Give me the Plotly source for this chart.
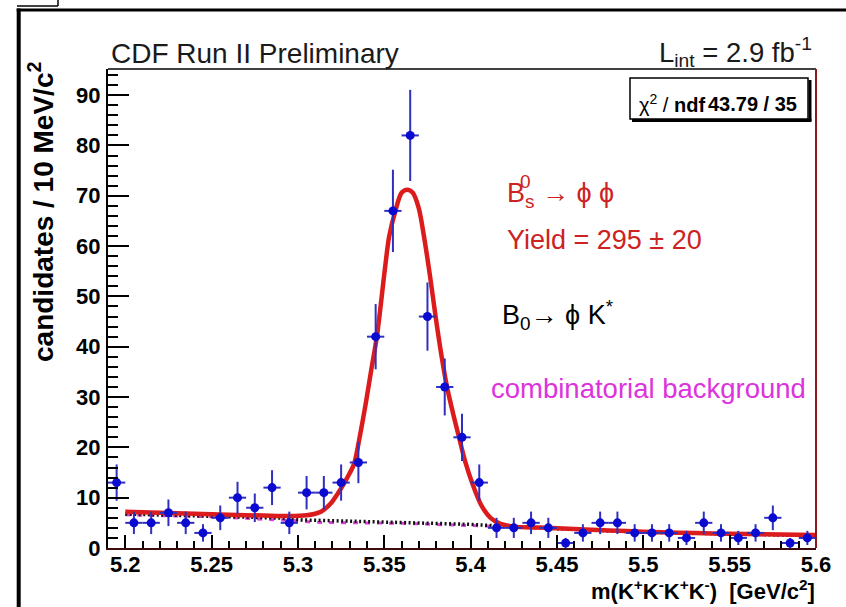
import numpy as np
import plotly.graph_objects as go

# ---------------- data ----------------
bin_centers = [5.195, 5.205, 5.215, 5.225, 5.235, 5.245, 5.255, 5.265, 5.275, 5.285,
               5.295, 5.305, 5.315, 5.325, 5.335, 5.345, 5.355, 5.365, 5.375, 5.385,
               5.395, 5.405, 5.415, 5.425, 5.435, 5.445, 5.455, 5.465, 5.475, 5.485,
               5.495, 5.505, 5.515, 5.525, 5.535, 5.545, 5.555, 5.565, 5.575, 5.585,
               5.595]
counts = [13, 5, 5, 7, 5, 3, 6, 10, 8, 12,
          5, 11, 11, 13, 17, 42, 67, 82, 46, 32,
          22, 13, 4, 4, 5, 4, 1, 3, 5, 5,
          3, 3, 3, 2, 5, 3, 2, 3, 6, 1,
          2]
bin_half_width = 0.005

# total fit (red)
fit_x = [5.200, 5.220, 5.240, 5.260, 5.280, 5.295, 5.305, 5.310, 5.3133, 5.3191,
         5.3230, 5.3268, 5.3300, 5.3326, 5.3360, 5.3393, 5.3425, 5.3457, 5.3503, 5.3528,
         5.3566, 5.3600, 5.3633, 5.3665, 5.3700, 5.3730, 5.3765, 5.3797, 5.3830, 5.3865,
         5.3900, 5.3932, 5.3970, 5.4009, 5.4060, 5.4115, 5.4173, 5.4250, 5.4400, 5.4600,
         5.4800, 5.5000, 5.5200, 5.5400, 5.5600, 5.5800, 5.6000]
fit_y = [7.2, 7.0, 6.8, 6.6, 6.45, 6.35, 6.5, 6.8, 7.2, 8.9,
         10.8, 12.9, 14.9, 16.8, 22.5, 28.8, 35.5, 42.0, 55.3, 61.9,
         67.2, 70.6, 71.2, 70.6, 67.5, 61.9, 54.0, 46.0, 38.5, 31.7,
         26.5, 22.1, 17.0, 12.9, 8.6, 6.0, 4.8, 4.25, 4.05, 3.8,
         3.5, 3.25, 3.05, 2.9, 2.8, 2.7, 2.6]

# background incl. B0 -> phi K* (black dotted)
bkg_x = [5.20, 5.25, 5.29, 5.30, 5.33, 5.36, 5.40, 5.415, 5.43, 5.45, 5.50, 5.55, 5.60]
bkg_y = [6.75, 6.35, 5.95, 5.6, 5.35, 5.1, 4.7, 4.4, 4.1, 3.85, 3.15, 2.75, 2.45]

# combinatorial background (magenta)
comb_x = [5.20, 5.25, 5.30, 5.31, 5.36, 5.40, 5.415, 5.45, 5.50, 5.55, 5.60]
comb_y = [6.6, 6.2, 5.4, 5.1, 4.9, 4.5, 4.3, 3.85, 3.15, 2.75, 2.45]

x_tick_vals = [5.2, 5.25, 5.3, 5.35, 5.4, 5.45, 5.5, 5.55, 5.6]
x_tick_text = ["5.2", "5.25", "5.3", "5.35", "5.4", "5.45", "5.5", "5.55", "5.6"]
y_tick_vals = [0, 10, 20, 30, 40, 50, 60, 70, 80, 90]

# ---------------- geometry ----------------
W, H = 846, 607
L, R, T, B = 108, 30, 69, 59
PW, PH = W - L - R, H - T - B


def px(x):
    return (x - L) / PW


def py(y):
    return (H - B - y) / PH


FONT = "Liberation Sans, Arial, Helvetica, sans-serif"

fig = go.Figure()

fig.add_trace(go.Scatter(x=comb_x, y=comb_y, mode="lines",
                         line=dict(color="#e040e0", width=3, dash="5px,7px"),
                         hoverinfo="skip", showlegend=False))
fig.add_trace(go.Scatter(x=bkg_x, y=bkg_y, mode="lines",
                         line=dict(color="#111111", width=3.5, dash="2px,2.5px"),
                         hoverinfo="skip", showlegend=False))
fig.add_trace(go.Scatter(x=fit_x, y=fit_y, mode="lines",
                         line=dict(color="#dc1c1c", width=4.5, shape="spline", smoothing=0.8),
                         hoverinfo="skip", showlegend=False))
fig.add_trace(go.Scatter(
    x=bin_centers, y=counts, mode="markers",
    marker=dict(color="#0a0ad0", size=9, line=dict(width=0)),
    error_y=dict(type="data", array=list(np.sqrt(counts)), color="#2f2fc0", thickness=2, width=0),
    error_x=dict(type="constant", value=bin_half_width, color="#2f2fc0", thickness=2, width=0),
    showlegend=False))

fig.update_xaxes(range=[5.19, 5.6], tickvals=x_tick_vals, ticktext=x_tick_text,
                 ticks="inside", ticklen=13, tickwidth=1.5, tickcolor="black",
                 minor=dict(dtick=0.01, tick0=5.2, ticks="inside", ticklen=7, tickwidth=1.5, tickcolor="black"),
                 showgrid=False, zeroline=False, showline=True, linecolor="#3a0c0c", linewidth=2,
                 tickfont=dict(family=FONT, size=22, color="black", weight="bold"),
                 ticklabelstandoff=-4)
fig.update_yaxes(range=[0, 95.2], tickvals=y_tick_vals,
                 ticks="inside", ticklen=21, tickwidth=1.5, tickcolor="black",
                 minor=dict(dtick=2, tick0=0, ticks="inside", ticklen=10, tickwidth=1.5, tickcolor="black"),
                 showgrid=False, zeroline=False, showline=True, linecolor="black", linewidth=2,
                 tickfont=dict(family=FONT, size=22, color="black", weight="bold"),
                 ticklabelstandoff=1)

shapes = []
# frame top and right
shapes.append(dict(type="line", xref="paper", yref="paper", x0=0, x1=1, y0=1, y1=1,
                   line=dict(color="black", width=1.5)))
shapes.append(dict(type="line", xref="paper", yref="paper", x0=1, x1=1, y0=0, y1=1,
                   line=dict(color="#8a1a1a", width=2)))
# outer canvas border
shapes.append(dict(type="line", xref="paper", yref="paper", x0=px(18.7), x1=px(18.7), y0=py(8.5), y1=py(H + 5),
                   line=dict(color="black", width=4)))
shapes.append(dict(type="line", xref="paper", yref="paper", x0=px(16.7), x1=px(W + 5), y0=py(10), y1=py(10),
                   line=dict(color="black", width=3)))
shapes.append(dict(type="line", xref="paper", yref="paper", x0=px(17), x1=px(58), y0=py(6), y1=py(6),
                   line=dict(color="black", width=1.5)))
shapes.append(dict(type="line", xref="paper", yref="paper", x0=px(58), x1=px(58), y0=py(-2), y1=py(6),
                   line=dict(color="black", width=1.5)))
# chi2 box with shadow
shapes.append(dict(type="rect", xref="paper", yref="paper", x0=px(630), x1=px(808), y0=py(119), y1=py(78),
                   line=dict(color="black", width=1.5), fillcolor="white"))
shapes.append(dict(type="line", xref="paper", yref="paper", x0=px(810), x1=px(810), y0=py(121), y1=py(80),
                   line=dict(color="black", width=3)))
shapes.append(dict(type="line", xref="paper", yref="paper", x0=px(632), x1=px(811.5), y0=py(120.5), y1=py(120.5),
                   line=dict(color="black", width=3)))

ann = []


def text(s, x, y, size, color="black", xanchor="left", angle=0, bold=False):
    ann.append(dict(text=s, xref="paper", yref="paper", x=px(x), y=py(y), showarrow=False,
                    xanchor=xanchor, yanchor="middle", textangle=angle,
                    font=dict(family=FONT, size=size, color=color, weight="bold" if bold else "normal")))


text("CDF Run II Preliminary", 109, 53, 28, color="#1a1a1a")
text("L<sub>int</sub> = 2.9 fb<sup>-1</sup>", 814, 52, 27.5, color="#1a1a1a", xanchor="right")
text("χ<sup>2</sup> / <b>ndf</b>", 637, 104, 20)
text("43.79 / 35", 799, 104, 20, xanchor="right", bold=True)
text("B<sub>s</sub> → ϕ ϕ", 505, 195, 27, color="#cc2222")
text("0", 517.5, 181, 19, color="#cc2222")
text("Yield = 295 ± 20", 505, 240, 27, color="#cc2222")
text("B<sub>0</sub>→ ϕ K<sup>*</sup>", 500, 315, 27, color="black")
text("combinatorial background", 489, 388, 27.5, color="#dd33dd")
text("candidates / 10 MeV/c<sup>2</sup>", 41, 212, 28, angle=-90, xanchor="center", bold=True)
text("m(K<sup>+</sup>K<sup>-</sup>K<sup>+</sup>K<sup>-</sup>)&nbsp;&nbsp;[GeV/c<sup>2</sup>]", 817, 590, 22,
     xanchor="right", bold=True)

fig.update_layout(width=W, height=H, margin=dict(l=L, r=R, t=T, b=B, pad=0),
                  paper_bgcolor="white", plot_bgcolor="white",
                  shapes=shapes, annotations=ann, showlegend=False)

fig.write_html("out.html")
